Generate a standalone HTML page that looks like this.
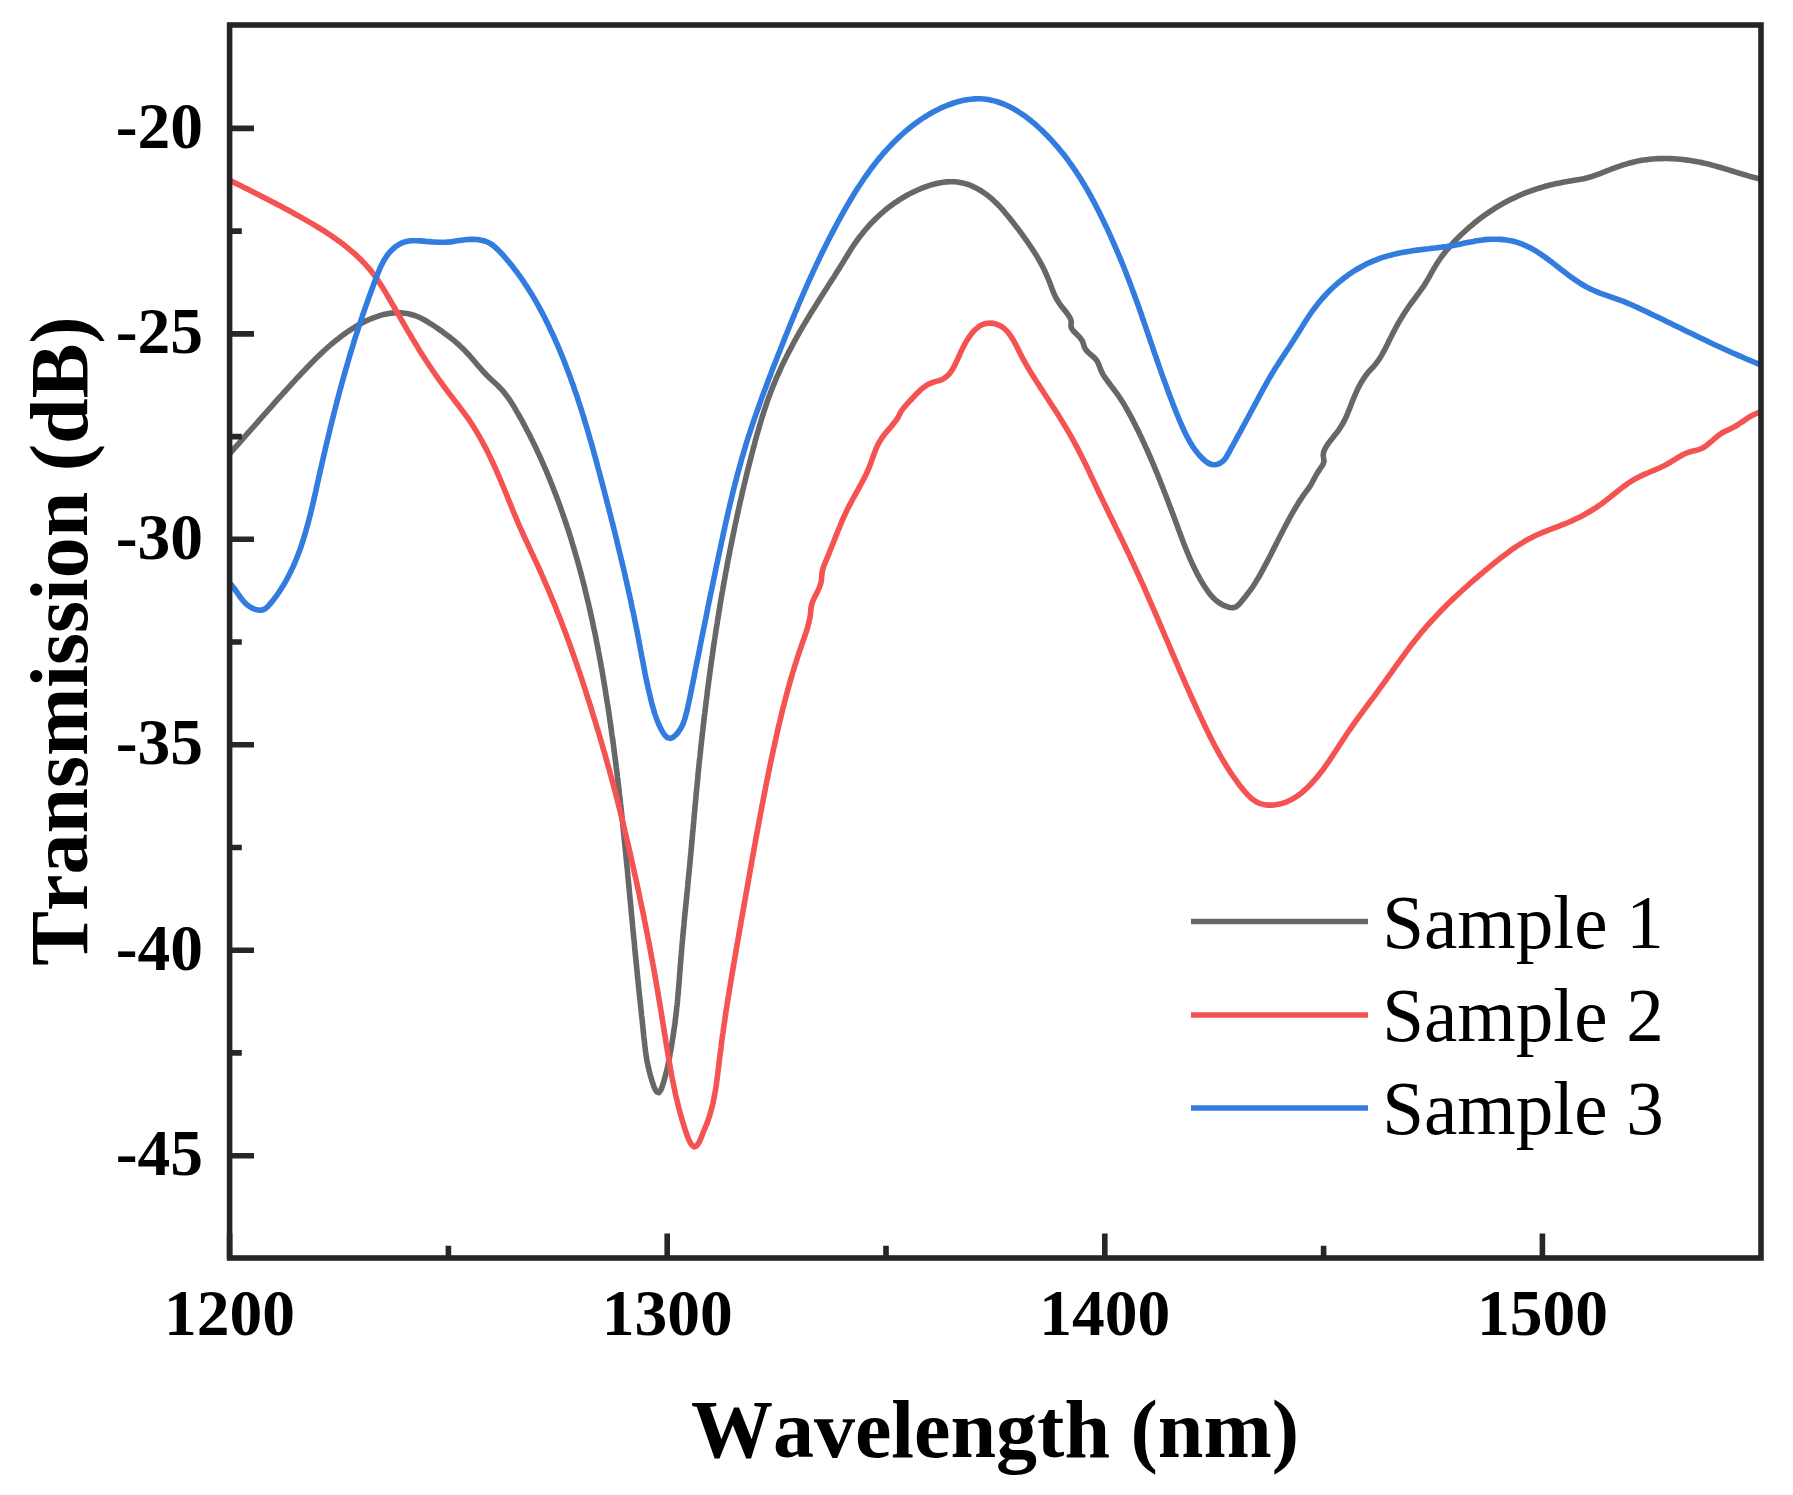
<!DOCTYPE html>
<html><head><meta charset="utf-8"><title>Transmission spectra</title>
<style>
html,body{margin:0;padding:0;background:#fff;}
body{width:1793px;height:1495px;overflow:hidden;}
svg{display:block;filter:blur(0.6px);}
text{font-family:"Liberation Serif","Times New Roman",serif;font-kerning:none;}
.tl{font-size:65.5px;font-weight:bold;fill:#000;}
.tt{font-size:82px;font-weight:bold;fill:#000;}
.lg{font-size:77px;fill:#000;}
</style></head>
<body>
<svg width="1793" height="1495" viewBox="0 0 1793 1495">
<rect width="1793" height="1495" fill="#fff"/>
<g fill="none" stroke-linejoin="round" stroke-linecap="butt" stroke-width="5.6">
<path d="M229.5 453.9L231.5 451.6L233.5 449.4L235.5 447.2L237.5 444.9L239.5 442.7L241.5 440.4L243.5 438.2L245.5 435.9L247.4 433.7L249.4 431.4L251.4 429.2L253.4 426.9L255.4 424.7L257.4 422.4L259.3 420.2L261.3 417.9L263.3 415.6L265.3 413.4L267.3 411.2L269.3 408.9L271.3 406.7L273.3 404.4L275.2 402.2L277.2 399.9L279.2 397.7L281.3 395.5L283.3 393.2L285.3 391.0L287.3 388.8L289.3 386.6L291.3 384.4L293.4 382.1L295.4 379.9L297.4 377.7L299.5 375.5L301.5 373.3L303.6 371.2L305.7 369.0L307.7 366.8L309.8 364.7L311.9 362.5L314.0 360.4L316.1 358.3L318.3 356.2L320.5 354.1L322.6 352.0L324.8 350.0L327.1 348.0L329.3 346.0L331.6 344.0L333.9 342.1L336.2 340.2L338.6 338.4L341.0 336.5L343.4 334.8L345.8 333.0L348.3 331.3L350.8 329.7L353.3 328.1L355.9 326.5L358.5 325.0L361.1 323.5L363.8 322.1L366.5 320.8L369.2 319.5L371.9 318.4L374.7 317.3L377.6 316.3L380.4 315.4L383.3 314.6L386.3 314.0L389.2 313.4L392.2 313.1L395.2 312.8L398.2 312.8L401.2 312.9L404.2 313.2L407.1 313.6L410.1 314.2L413.0 315.0L415.8 315.9L418.6 317.0L421.3 318.3L424.0 319.7L426.6 321.2L429.1 322.8L431.7 324.4L434.2 326.0L436.7 327.7L439.1 329.4L441.6 331.1L444.0 332.9L446.4 334.7L448.8 336.5L451.2 338.3L453.5 340.2L455.8 342.1L458.1 344.1L460.3 346.2L462.5 348.2L464.6 350.4L466.6 352.5L468.7 354.7L470.7 357.0L472.6 359.2L474.6 361.5L476.5 363.8L478.5 366.1L480.5 368.3L482.5 370.6L484.5 372.8L486.6 375.0L488.7 377.1L490.9 379.2L493.1 381.2L495.3 383.2L497.5 385.3L499.6 387.4L501.7 389.6L503.6 391.8L505.5 394.2L507.3 396.6L509.1 399.0L510.7 401.5L512.3 404.0L513.9 406.6L515.4 409.2L516.9 411.8L518.4 414.4L519.9 417.0L521.4 419.6L522.8 422.2L524.2 424.9L525.6 427.5L527.0 430.2L528.4 432.9L529.8 435.5L531.1 438.2L532.5 440.9L533.8 443.6L535.1 446.3L536.4 449.0L537.6 451.7L538.9 454.4L540.2 457.2L541.4 459.9L542.6 462.6L543.8 465.4L545.0 468.1L546.2 470.9L547.4 473.7L548.5 476.4L549.7 479.2L550.8 482.0L551.9 484.8L553.0 487.6L554.1 490.4L555.2 493.2L556.3 496.0L557.3 498.8L558.4 501.6L559.4 504.4L560.4 507.2L561.4 510.1L562.4 512.9L563.4 515.7L564.4 518.6L565.3 521.4L566.3 524.2L567.2 527.1L568.2 529.9L569.1 532.8L570.0 535.7L570.9 538.5L571.8 541.4L572.6 544.3L573.5 547.1L574.4 550.0L575.2 552.9L576.0 555.8L576.9 558.7L577.7 561.5L578.5 564.4L579.3 567.3L580.1 570.2L580.8 573.1L581.6 576.0L582.4 578.9L583.1 581.8L583.9 584.7L584.6 587.7L585.3 590.6L586.0 593.5L586.7 596.4L587.4 599.3L588.1 602.2L588.8 605.2L589.5 608.1L590.1 611.0L590.8 613.9L591.4 616.9L592.1 619.8L592.7 622.7L593.3 625.7L593.9 628.6L594.6 631.5L595.2 634.5L595.8 637.4L596.3 640.4L596.9 643.3L597.5 646.3L598.1 649.2L598.6 652.2L599.2 655.1L599.7 658.1L600.3 661.0L600.8 664.0L601.3 666.9L601.9 669.9L602.4 672.8L602.9 675.8L603.4 678.7L603.9 681.7L604.4 684.7L604.9 687.6L605.4 690.6L605.8 693.5L606.3 696.5L606.8 699.5L607.2 702.4L607.7 705.4L608.2 708.4L608.6 711.3L609.1 714.3L609.5 717.3L609.9 720.2L610.4 723.2L610.8 726.2L611.2 729.1L611.6 732.1L612.0 735.1L612.5 738.1L612.9 741.0L613.3 744.0L613.7 747.0L614.0 750.0L614.4 752.9L614.8 755.9L615.2 758.9L615.6 761.9L616.0 764.8L616.3 767.8L616.7 770.8L617.1 773.8L617.4 776.8L617.8 779.7L618.1 782.7L618.5 785.7L618.8 788.7L619.2 791.7L619.5 794.6L619.9 797.6L620.2 800.6L620.5 803.6L620.9 806.6L621.2 809.5L621.5 812.5L621.8 815.5L622.1 818.5L622.5 821.5L622.8 824.5L623.1 827.4L623.4 830.4L623.7 833.4L624.0 836.4L624.3 839.4L624.6 842.4L624.9 845.4L625.2 848.3L625.5 851.3L625.8 854.3L626.1 857.3L626.4 860.3L626.7 863.3L627.0 866.3L627.3 869.3L627.6 872.2L627.8 875.2L628.1 878.2L628.4 881.2L628.7 884.2L629.0 887.2L629.3 890.2L629.5 893.1L629.8 896.1L630.1 899.1L630.4 902.1L630.7 905.1L631.0 908.1L631.2 911.1L631.5 914.1L631.8 917.0L632.1 920.0L632.4 923.0L632.6 926.0L632.9 929.0L633.2 932.0L633.5 935.0L633.8 938.0L634.1 940.9L634.4 943.9L634.6 946.9L634.9 949.9L635.2 952.9L635.5 955.9L635.8 958.9L636.1 961.9L636.4 964.8L636.7 967.8L637.0 970.8L637.3 973.8L637.6 976.8L637.9 979.8L638.2 982.8L638.5 985.7L638.8 988.7L639.1 991.7L639.4 994.7L639.7 997.7L640.1 1000.7L640.4 1003.6L640.7 1006.6L641.0 1009.6L641.3 1012.6L641.6 1015.6L642.0 1018.6L642.3 1021.5L642.6 1024.5L642.9 1027.5L643.2 1030.5L643.5 1033.5L643.8 1036.5L644.2 1039.5L644.5 1042.4L644.8 1045.4L645.2 1048.4L645.5 1051.4L646.0 1054.4L646.4 1057.3L646.9 1060.3L647.5 1063.2L648.1 1066.2L648.8 1069.1L649.5 1072.0L650.2 1074.9L651.1 1077.8L651.9 1080.7L652.9 1083.5L653.8 1086.3L655.0 1089.1L656.5 1091.7L658.9 1092.7L660.7 1090.2L661.9 1087.5L662.8 1084.6L663.7 1081.8L664.5 1078.9L665.3 1076.0L666.1 1073.1L666.8 1070.2L667.5 1067.3L668.1 1064.3L668.7 1061.4L669.3 1058.4L669.8 1055.5L670.3 1052.5L670.9 1049.6L671.4 1046.6L671.9 1043.7L672.3 1040.7L672.8 1037.7L673.3 1034.8L673.7 1031.8L674.1 1028.8L674.6 1025.9L675.0 1022.9L675.3 1019.9L675.7 1016.9L676.1 1014.0L676.4 1011.0L676.7 1008.0L677.1 1005.0L677.4 1002.0L677.6 999.0L677.9 996.0L678.2 993.1L678.4 990.1L678.7 987.1L678.9 984.1L679.2 981.1L679.4 978.1L679.6 975.1L679.9 972.1L680.1 969.1L680.3 966.1L680.6 963.1L680.8 960.1L681.0 957.2L681.3 954.2L681.5 951.2L681.8 948.2L682.0 945.2L682.3 942.2L682.6 939.2L682.8 936.2L683.1 933.2L683.4 930.3L683.7 927.3L684.0 924.3L684.2 921.3L684.5 918.3L684.8 915.3L685.1 912.3L685.4 909.3L685.7 906.4L686.0 903.4L686.3 900.4L686.6 897.4L686.9 894.4L687.2 891.4L687.5 888.4L687.8 885.5L688.0 882.5L688.3 879.5L688.6 876.5L688.9 873.5L689.2 870.5L689.5 867.5L689.8 864.5L690.1 861.6L690.3 858.6L690.6 855.6L690.9 852.6L691.2 849.6L691.4 846.6L691.7 843.6L692.0 840.6L692.2 837.7L692.5 834.7L692.8 831.7L693.1 828.7L693.3 825.7L693.6 822.7L693.9 819.7L694.1 816.7L694.4 813.7L694.7 810.8L694.9 807.8L695.2 804.8L695.5 801.8L695.8 798.8L696.0 795.8L696.3 792.8L696.6 789.8L696.9 786.9L697.2 783.9L697.5 780.9L697.8 777.9L698.0 774.9L698.3 771.9L698.6 768.9L698.9 765.9L699.2 763.0L699.5 760.0L699.9 757.0L700.2 754.0L700.5 751.0L700.8 748.0L701.1 745.1L701.4 742.1L701.8 739.1L702.1 736.1L702.4 733.1L702.8 730.1L703.1 727.2L703.5 724.2L703.8 721.2L704.1 718.2L704.5 715.2L704.9 712.3L705.2 709.3L705.6 706.3L705.9 703.3L706.3 700.3L706.7 697.4L707.1 694.4L707.4 691.4L707.8 688.4L708.2 685.5L708.6 682.5L709.0 679.5L709.4 676.5L709.8 673.6L710.2 670.6L710.6 667.6L711.0 664.6L711.4 661.7L711.8 658.7L712.3 655.7L712.7 652.8L713.1 649.8L713.5 646.8L714.0 643.8L714.4 640.9L714.9 637.9L715.3 634.9L715.8 632.0L716.2 629.0L716.7 626.1L717.2 623.1L717.6 620.1L718.1 617.2L718.6 614.2L719.1 611.2L719.6 608.3L720.0 605.3L720.5 602.4L721.0 599.4L721.5 596.4L722.0 593.5L722.6 590.5L723.1 587.6L723.6 584.6L724.1 581.7L724.7 578.7L725.2 575.8L725.7 572.8L726.3 569.8L726.8 566.9L727.4 563.9L727.9 561.0L728.5 558.1L729.1 555.1L729.6 552.2L730.2 549.2L730.8 546.3L731.4 543.3L732.0 540.4L732.6 537.4L733.2 534.5L733.8 531.6L734.4 528.6L735.0 525.7L735.6 522.8L736.3 519.8L736.9 516.9L737.5 514.0L738.2 511.0L738.8 508.1L739.5 505.2L740.1 502.2L740.8 499.3L741.5 496.4L742.1 493.5L742.8 490.5L743.5 487.6L744.2 484.7L744.9 481.8L745.6 478.9L746.3 476.0L747.0 473.0L747.7 470.1L748.5 467.2L749.2 464.3L749.9 461.4L750.7 458.5L751.4 455.6L752.2 452.7L752.9 449.8L753.7 446.9L754.5 444.0L755.2 441.1L756.0 438.2L756.8 435.3L757.6 432.4L758.5 429.5L759.3 426.6L760.2 423.7L761.0 420.9L761.9 418.0L762.8 415.1L763.7 412.3L764.6 409.4L765.6 406.6L766.5 403.7L767.5 400.9L768.5 398.1L769.6 395.3L770.6 392.4L771.7 389.6L772.8 386.9L773.9 384.1L775.1 381.3L776.2 378.5L777.4 375.8L778.7 373.0L779.9 370.3L781.1 367.6L782.4 364.9L783.7 362.2L785.0 359.5L786.4 356.8L787.7 354.1L789.1 351.4L790.5 348.8L791.9 346.1L793.3 343.5L794.7 340.8L796.2 338.2L797.6 335.6L799.1 333.0L800.6 330.4L802.1 327.8L803.6 325.2L805.2 322.6L806.7 320.0L808.3 317.5L809.8 314.9L811.4 312.3L813.0 309.8L814.6 307.2L816.2 304.7L817.7 302.2L819.4 299.6L821.0 297.1L822.6 294.6L824.2 292.0L825.8 289.5L827.4 287.0L829.0 284.4L830.6 281.9L832.3 279.4L833.9 276.9L835.5 274.3L837.1 271.8L838.7 269.2L840.3 266.7L841.9 264.1L843.4 261.6L845.0 259.0L846.6 256.5L848.1 253.9L849.7 251.4L851.3 248.8L853.0 246.3L854.6 243.8L856.4 241.4L858.1 238.9L859.9 236.5L861.8 234.2L863.6 231.8L865.6 229.5L867.5 227.3L869.5 225.0L871.6 222.8L873.7 220.7L875.8 218.6L878.0 216.5L880.2 214.5L882.4 212.5L884.7 210.5L887.0 208.6L889.4 206.8L891.8 205.0L894.2 203.2L896.7 201.6L899.2 199.9L901.8 198.3L904.4 196.8L907.0 195.3L909.6 193.9L912.3 192.5L915.0 191.2L917.7 190.0L920.5 188.8L923.2 187.7L926.1 186.6L928.9 185.6L931.8 184.7L934.7 183.9L937.6 183.3L940.5 182.7L943.5 182.2L946.5 181.9L949.5 181.7L952.5 181.7L955.5 181.8L958.4 182.2L961.4 182.7L964.3 183.4L967.2 184.2L970.0 185.2L972.8 186.4L975.5 187.7L978.1 189.1L980.7 190.6L983.2 192.3L985.7 194.0L988.1 195.8L990.4 197.7L992.7 199.7L994.9 201.7L997.0 203.8L999.1 205.9L1001.2 208.1L1003.2 210.4L1005.1 212.7L1007.0 215.0L1008.9 217.3L1010.8 219.6L1012.7 222.0L1014.5 224.4L1016.3 226.7L1018.2 229.1L1020.0 231.5L1021.8 233.9L1023.5 236.3L1025.3 238.8L1027.0 241.2L1028.7 243.7L1030.4 246.2L1032.1 248.7L1033.7 251.2L1035.3 253.7L1036.9 256.3L1038.4 258.9L1039.9 261.5L1041.3 264.1L1042.7 266.8L1044.1 269.5L1045.3 272.2L1046.6 274.9L1047.7 277.7L1048.9 280.4L1050.0 283.2L1051.0 286.1L1052.1 288.9L1053.2 291.7L1054.3 294.4L1055.6 297.1L1057.1 299.8L1058.6 302.3L1060.3 304.8L1062.2 307.2L1064.1 309.5L1065.9 311.8L1067.7 314.2L1069.4 316.7L1070.7 319.4L1071.3 322.3L1070.9 325.3L1071.4 328.2L1073.2 330.7L1075.2 332.8L1077.4 334.9L1079.5 337.1L1081.3 339.4L1082.8 342.0L1083.7 344.9L1084.6 347.8L1086.2 350.3L1088.3 352.5L1090.5 354.4L1092.8 356.4L1095.0 358.4L1096.9 360.7L1098.3 363.4L1099.4 366.2L1100.4 369.0L1101.6 371.7L1103.0 374.4L1104.6 376.9L1106.3 379.4L1108.1 381.8L1109.9 384.2L1111.7 386.6L1113.5 389.0L1115.3 391.4L1117.1 393.8L1118.8 396.3L1120.5 398.8L1122.1 401.3L1123.7 403.9L1125.2 406.4L1126.7 409.0L1128.2 411.6L1129.7 414.3L1131.1 416.9L1132.5 419.6L1133.8 422.2L1135.2 424.9L1136.5 427.6L1137.9 430.3L1139.2 433.0L1140.5 435.7L1141.8 438.4L1143.0 441.1L1144.3 443.8L1145.5 446.6L1146.8 449.3L1148.0 452.0L1149.2 454.8L1150.4 457.5L1151.6 460.3L1152.8 463.1L1153.9 465.8L1155.1 468.6L1156.2 471.4L1157.4 474.1L1158.5 476.9L1159.6 479.7L1160.7 482.5L1161.8 485.3L1162.9 488.1L1164.0 490.9L1165.1 493.7L1166.2 496.5L1167.3 499.3L1168.3 502.1L1169.4 504.9L1170.5 507.7L1171.5 510.5L1172.6 513.3L1173.6 516.1L1174.7 518.9L1175.7 521.7L1176.8 524.6L1177.8 527.4L1178.8 530.2L1179.9 533.0L1180.9 535.8L1182.0 538.6L1183.0 541.4L1184.1 544.2L1185.2 547.0L1186.3 549.8L1187.5 552.6L1188.6 555.4L1189.8 558.1L1191.0 560.9L1192.2 563.6L1193.5 566.3L1194.8 569.0L1196.2 571.7L1197.5 574.4L1199.0 577.0L1200.4 579.6L1201.9 582.2L1203.5 584.8L1205.1 587.3L1206.8 589.8L1208.5 592.3L1210.4 594.6L1212.4 596.9L1214.5 599.0L1216.7 601.0L1219.1 602.8L1221.7 604.3L1224.4 605.7L1227.2 606.7L1230.1 607.5L1233.1 607.7L1235.9 606.9L1238.3 605.1L1240.3 602.9L1242.2 600.5L1244.1 598.2L1246.0 595.9L1247.8 593.5L1249.6 591.1L1251.4 588.7L1253.1 586.2L1254.7 583.7L1256.3 581.1L1257.9 578.6L1259.4 576.0L1260.9 573.3L1262.3 570.7L1263.7 568.1L1265.1 565.4L1266.5 562.8L1267.9 560.1L1269.3 557.5L1270.7 554.8L1272.0 552.1L1273.4 549.4L1274.7 546.8L1276.1 544.1L1277.4 541.4L1278.8 538.7L1280.2 536.0L1281.5 533.4L1282.9 530.7L1284.3 528.0L1285.7 525.4L1287.1 522.7L1288.5 520.1L1289.9 517.5L1291.4 514.8L1292.9 512.2L1294.4 509.6L1295.9 507.0L1297.5 504.5L1299.0 501.9L1300.7 499.4L1302.3 496.9L1304.1 494.4L1305.8 492.0L1307.7 489.6L1309.4 487.2L1311.0 484.6L1312.4 482.0L1313.8 479.4L1315.3 476.7L1316.7 474.1L1318.3 471.5L1319.9 469.0L1321.6 466.6L1323.2 464.0L1324.1 461.2L1323.6 458.2L1323.2 455.3L1323.6 452.3L1324.6 449.5L1326.1 446.9L1327.7 444.3L1329.4 441.9L1331.3 439.5L1333.2 437.2L1335.0 434.8L1336.9 432.5L1338.7 430.1L1340.3 427.6L1341.9 425.0L1343.4 422.4L1344.8 419.7L1346.1 417.0L1347.3 414.3L1348.4 411.5L1349.5 408.7L1350.6 405.9L1351.7 403.1L1352.8 400.3L1353.9 397.6L1355.1 394.8L1356.3 392.1L1357.6 389.3L1358.9 386.7L1360.3 384.0L1361.8 381.4L1363.4 378.9L1365.1 376.4L1366.9 374.0L1368.8 371.6L1370.8 369.4L1372.9 367.3L1374.9 365.0L1376.7 362.6L1378.5 360.2L1380.1 357.7L1381.7 355.1L1383.1 352.5L1384.6 349.9L1385.9 347.2L1387.3 344.5L1388.6 341.8L1389.9 339.1L1391.3 336.5L1392.6 333.8L1394.0 331.1L1395.4 328.5L1396.8 325.8L1398.3 323.2L1399.8 320.6L1401.4 318.0L1402.9 315.5L1404.5 312.9L1406.2 310.4L1407.8 307.9L1409.5 305.5L1411.3 303.0L1413.1 300.6L1414.9 298.2L1416.7 295.8L1418.5 293.4L1420.2 291.0L1422.0 288.5L1423.7 286.1L1425.3 283.5L1426.8 281.0L1428.4 278.4L1429.8 275.8L1431.3 273.2L1432.8 270.5L1434.3 267.9L1435.8 265.4L1437.4 262.8L1439.1 260.3L1440.8 257.8L1442.5 255.4L1444.4 253.0L1446.2 250.7L1448.2 248.4L1450.1 246.1L1452.2 243.9L1454.2 241.7L1456.3 239.6L1458.4 237.4L1460.5 235.3L1462.7 233.3L1464.9 231.2L1467.1 229.2L1469.4 227.2L1471.7 225.3L1474.0 223.3L1476.3 221.5L1478.7 219.6L1481.1 217.8L1483.5 216.0L1485.9 214.3L1488.4 212.6L1490.9 210.9L1493.4 209.3L1495.9 207.7L1498.5 206.1L1501.1 204.6L1503.7 203.1L1506.4 201.7L1509.0 200.3L1511.7 199.0L1514.4 197.7L1517.1 196.4L1519.9 195.2L1522.6 194.0L1525.4 192.9L1528.2 191.8L1531.0 190.8L1533.9 189.8L1536.7 188.9L1539.6 188.0L1542.5 187.1L1545.4 186.3L1548.3 185.5L1551.2 184.8L1554.1 184.1L1557.0 183.5L1560.0 182.9L1562.9 182.3L1565.9 181.8L1568.8 181.3L1571.8 180.8L1574.7 180.3L1577.7 179.8L1580.6 179.3L1583.6 178.7L1586.5 178.0L1589.4 177.2L1592.3 176.4L1595.1 175.4L1597.9 174.4L1600.7 173.3L1603.5 172.2L1606.3 171.1L1609.1 170.0L1611.9 168.9L1614.7 167.8L1617.5 166.8L1620.4 165.9L1623.2 164.9L1626.1 164.1L1629.0 163.2L1631.9 162.5L1634.8 161.8L1637.7 161.1L1640.7 160.6L1643.7 160.1L1646.6 159.7L1649.6 159.3L1652.6 159.0L1655.6 158.8L1658.6 158.6L1661.6 158.6L1664.6 158.5L1667.6 158.5L1670.6 158.6L1673.6 158.8L1676.6 159.0L1679.6 159.2L1682.5 159.5L1685.5 159.9L1688.5 160.3L1691.5 160.7L1694.4 161.2L1697.4 161.8L1700.3 162.3L1703.3 163.0L1706.2 163.6L1709.1 164.3L1712.0 165.1L1714.9 165.9L1717.8 166.7L1720.7 167.5L1723.6 168.4L1726.4 169.2L1729.3 170.1L1732.2 171.0L1735.0 171.9L1737.9 172.8L1740.8 173.6L1743.6 174.5L1746.5 175.3L1749.4 176.2L1752.3 177.0L1755.2 177.7L1758.1 178.5L1761.0 179.2" stroke="#676767"/>
<path d="M229.7 180.2L232.3 181.6L235.0 182.9L237.7 184.3L240.4 185.6L243.1 187.0L245.8 188.3L248.4 189.6L251.1 191.0L253.8 192.3L256.5 193.7L259.2 195.1L261.8 196.4L264.5 197.8L267.2 199.2L269.8 200.5L272.5 201.9L275.2 203.3L277.8 204.7L280.5 206.1L283.1 207.5L285.8 208.9L288.4 210.3L291.1 211.8L293.7 213.2L296.3 214.7L298.9 216.1L301.6 217.6L304.2 219.1L306.8 220.6L309.4 222.1L312.0 223.6L314.5 225.1L317.1 226.7L319.7 228.2L322.2 229.8L324.8 231.4L327.3 233.1L329.8 234.7L332.3 236.4L334.7 238.1L337.2 239.9L339.6 241.6L342.0 243.4L344.4 245.3L346.7 247.1L349.0 249.0L351.3 251.0L353.6 252.9L355.8 254.9L358.0 257.0L360.2 259.1L362.3 261.2L364.4 263.4L366.4 265.6L368.4 267.8L370.3 270.1L372.2 272.5L374.0 274.9L375.8 277.3L377.5 279.8L379.2 282.2L380.8 284.8L382.4 287.3L384.0 289.9L385.5 292.4L387.1 295.0L388.6 297.6L390.1 300.2L391.6 302.8L393.1 305.4L394.6 308.0L396.1 310.6L397.6 313.2L399.1 315.8L400.6 318.4L402.1 321.0L403.6 323.6L405.1 326.2L406.6 328.8L408.1 331.4L409.7 333.9L411.2 336.5L412.7 339.1L414.3 341.7L415.8 344.3L417.4 346.8L418.9 349.4L420.5 351.9L422.1 354.5L423.7 357.0L425.3 359.5L427.0 362.0L428.6 364.5L430.3 367.0L432.0 369.5L433.7 372.0L435.4 374.5L437.1 376.9L438.8 379.4L440.6 381.8L442.4 384.2L444.1 386.7L445.9 389.1L447.7 391.5L449.5 393.9L451.4 396.2L453.2 398.6L455.0 401.0L456.9 403.4L458.7 405.8L460.5 408.2L462.3 410.6L464.1 413.0L465.8 415.4L467.6 417.8L469.3 420.3L471.0 422.8L472.6 425.3L474.2 427.9L475.8 430.4L477.3 433.0L478.9 435.6L480.3 438.2L481.8 440.8L483.2 443.4L484.6 446.1L486.0 448.7L487.4 451.4L488.7 454.1L490.0 456.8L491.3 459.5L492.6 462.2L493.9 465.0L495.1 467.7L496.3 470.4L497.5 473.2L498.7 475.9L499.9 478.7L501.1 481.5L502.2 484.2L503.4 487.0L504.5 489.8L505.7 492.6L506.8 495.3L507.9 498.1L509.0 500.9L510.2 503.7L511.3 506.5L512.4 509.2L513.5 512.0L514.7 514.8L515.9 517.6L517.0 520.3L518.2 523.1L519.4 525.8L520.6 528.6L521.9 531.3L523.1 534.1L524.3 536.8L525.6 539.5L526.9 542.2L528.1 545.0L529.4 547.7L530.6 550.4L531.9 553.1L533.2 555.8L534.4 558.6L535.7 561.3L537.0 564.0L538.2 566.7L539.5 569.5L540.7 572.2L541.9 575.0L543.1 577.7L544.3 580.4L545.5 583.2L546.7 586.0L547.9 588.7L549.1 591.5L550.2 594.2L551.4 597.0L552.5 599.8L553.7 602.6L554.8 605.3L555.9 608.1L557.0 610.9L558.1 613.7L559.2 616.5L560.3 619.3L561.4 622.1L562.5 624.9L563.5 627.7L564.6 630.5L565.7 633.3L566.7 636.1L567.7 639.0L568.8 641.8L569.8 644.6L570.8 647.4L571.8 650.2L572.8 653.1L573.8 655.9L574.8 658.7L575.8 661.6L576.8 664.4L577.7 667.3L578.7 670.1L579.7 672.9L580.6 675.8L581.6 678.6L582.5 681.5L583.4 684.3L584.4 687.2L585.3 690.0L586.2 692.9L587.1 695.8L588.0 698.6L589.0 701.5L589.9 704.3L590.8 707.2L591.7 710.1L592.5 712.9L593.4 715.8L594.3 718.7L595.2 721.5L596.1 724.4L596.9 727.3L597.8 730.2L598.7 733.0L599.5 735.9L600.4 738.8L601.2 741.7L602.1 744.5L602.9 747.4L603.7 750.3L604.6 753.2L605.4 756.1L606.2 759.0L607.0 761.9L607.8 764.7L608.6 767.6L609.5 770.5L610.2 773.4L611.0 776.3L611.8 779.2L612.6 782.1L613.4 785.0L614.1 787.9L614.9 790.8L615.7 793.7L616.4 796.6L617.2 799.5L617.9 802.4L618.6 805.4L619.4 808.3L620.1 811.2L620.8 814.1L621.5 817.0L622.2 819.9L622.9 822.8L623.7 825.8L624.4 828.7L625.0 831.6L625.7 834.5L626.4 837.4L627.1 840.4L627.8 843.3L628.5 846.2L629.2 849.1L629.8 852.0L630.5 855.0L631.2 857.9L631.8 860.8L632.5 863.8L633.1 866.7L633.8 869.6L634.4 872.5L635.1 875.5L635.7 878.4L636.4 881.3L637.0 884.3L637.6 887.2L638.3 890.1L638.9 893.1L639.5 896.0L640.1 899.0L640.7 901.9L641.3 904.8L642.0 907.8L642.6 910.7L643.2 913.6L643.8 916.6L644.3 919.5L644.9 922.5L645.5 925.4L646.1 928.4L646.7 931.3L647.3 934.3L647.8 937.2L648.4 940.1L649.0 943.1L649.5 946.0L650.1 949.0L650.6 951.9L651.2 954.9L651.7 957.8L652.3 960.8L652.8 963.7L653.4 966.7L653.9 969.6L654.4 972.6L654.9 975.6L655.5 978.5L656.0 981.5L656.5 984.4L657.0 987.4L657.5 990.3L658.0 993.3L658.5 996.3L659.0 999.2L659.5 1002.2L660.0 1005.1L660.5 1008.1L661.0 1011.1L661.5 1014.0L661.9 1017.0L662.4 1020.0L662.9 1022.9L663.4 1025.9L663.8 1028.8L664.3 1031.8L664.8 1034.8L665.3 1037.7L665.7 1040.7L666.2 1043.7L666.7 1046.6L667.2 1049.6L667.7 1052.5L668.2 1055.5L668.7 1058.5L669.2 1061.4L669.7 1064.4L670.2 1067.3L670.7 1070.3L671.3 1073.2L671.8 1076.2L672.4 1079.1L673.0 1082.1L673.6 1085.0L674.2 1088.0L674.8 1090.9L675.4 1093.8L676.1 1096.8L676.8 1099.7L677.5 1102.6L678.2 1105.5L678.9 1108.4L679.7 1111.3L680.5 1114.2L681.3 1117.1L682.1 1120.0L683.0 1122.9L683.9 1125.7L684.8 1128.6L685.7 1131.5L686.7 1134.3L687.7 1137.1L688.9 1139.9L690.2 1142.6L691.8 1145.1L694.1 1146.9L696.7 1145.8L698.5 1143.3L699.9 1140.7L701.1 1137.9L702.2 1135.1L703.3 1132.3L704.4 1129.5L705.5 1126.8L706.7 1124.0L707.7 1121.2L708.7 1118.4L709.7 1115.5L710.5 1112.6L711.3 1109.7L712.1 1106.8L712.8 1103.9L713.4 1101.0L714.0 1098.0L714.6 1095.1L715.1 1092.1L715.6 1089.2L716.1 1086.2L716.5 1083.2L716.9 1080.3L717.3 1077.3L717.7 1074.3L718.0 1071.3L718.4 1068.4L718.8 1065.4L719.1 1062.4L719.5 1059.4L719.8 1056.4L720.2 1053.5L720.6 1050.5L721.0 1047.5L721.3 1044.5L721.7 1041.6L722.1 1038.6L722.5 1035.6L723.0 1032.6L723.4 1029.7L723.8 1026.7L724.2 1023.7L724.7 1020.7L725.1 1017.8L725.5 1014.8L726.0 1011.8L726.4 1008.9L726.9 1005.9L727.3 1002.9L727.8 1000.0L728.3 997.0L728.8 994.0L729.2 991.1L729.7 988.1L730.2 985.2L730.7 982.2L731.2 979.2L731.7 976.3L732.2 973.3L732.7 970.4L733.2 967.4L733.7 964.4L734.2 961.5L734.7 958.5L735.2 955.6L735.7 952.6L736.2 949.7L736.7 946.7L737.2 943.7L737.8 940.8L738.3 937.8L738.8 934.9L739.3 931.9L739.8 929.0L740.4 926.0L740.9 923.0L741.4 920.1L741.9 917.1L742.5 914.2L743.0 911.2L743.5 908.3L744.0 905.3L744.6 902.4L745.1 899.4L745.6 896.5L746.1 893.5L746.6 890.5L747.2 887.6L747.7 884.6L748.2 881.7L748.7 878.7L749.3 875.8L749.8 872.8L750.3 869.9L750.8 866.9L751.4 863.9L751.9 861.0L752.4 858.0L752.9 855.1L753.5 852.1L754.0 849.2L754.5 846.2L755.1 843.3L755.6 840.3L756.1 837.4L756.7 834.4L757.2 831.5L757.8 828.5L758.3 825.6L758.9 822.6L759.4 819.7L760.0 816.7L760.5 813.8L761.1 810.8L761.6 807.9L762.2 804.9L762.8 802.0L763.3 799.0L763.9 796.1L764.5 793.1L765.1 790.2L765.6 787.2L766.2 784.3L766.8 781.3L767.4 778.4L768.0 775.5L768.6 772.5L769.2 769.6L769.8 766.6L770.4 763.7L771.0 760.8L771.6 757.8L772.3 754.9L772.9 752.0L773.5 749.0L774.2 746.1L774.8 743.2L775.5 740.2L776.1 737.3L776.8 734.4L777.4 731.4L778.1 728.5L778.8 725.6L779.5 722.7L780.2 719.8L780.9 716.8L781.6 713.9L782.3 711.0L783.0 708.1L783.8 705.2L784.5 702.3L785.3 699.4L786.0 696.5L786.8 693.6L787.6 690.7L788.4 687.8L789.2 684.9L790.0 682.0L790.8 679.1L791.7 676.2L792.5 673.4L793.4 670.5L794.3 667.6L795.2 664.7L796.1 661.9L797.0 659.0L797.9 656.2L798.8 653.3L799.8 650.5L800.8 647.6L801.7 644.8L802.7 642.0L803.7 639.1L804.7 636.3L805.7 633.5L806.6 630.6L807.5 627.7L808.3 624.8L809.0 621.9L809.7 619.0L810.2 616.0L810.6 613.1L810.8 610.1L811.1 607.1L811.8 604.2L812.8 601.3L814.0 598.6L815.3 595.9L816.7 593.2L818.0 590.5L819.2 587.8L820.3 585.0L821.1 582.1L821.5 579.1L821.7 576.1L822.0 573.1L822.6 570.2L823.4 567.3L824.4 564.5L825.6 561.7L826.7 558.9L827.9 556.2L829.0 553.4L830.1 550.6L831.3 547.8L832.4 545.0L833.5 542.2L834.6 539.4L835.7 536.6L836.8 533.9L837.9 531.1L839.0 528.3L840.2 525.5L841.3 522.7L842.5 520.0L843.7 517.2L845.0 514.5L846.2 511.8L847.5 509.1L848.9 506.4L850.3 503.8L851.7 501.1L853.1 498.5L854.6 495.8L856.0 493.2L857.5 490.6L859.0 488.0L860.4 485.3L861.8 482.7L863.2 480.0L864.6 477.4L865.9 474.7L867.2 472.0L868.4 469.2L869.5 466.4L870.6 463.6L871.6 460.8L872.6 458.0L873.6 455.2L874.7 452.3L875.7 449.5L876.9 446.8L878.2 444.1L879.7 441.4L881.3 438.9L883.0 436.4L884.8 434.1L886.7 431.7L888.7 429.5L890.6 427.2L892.5 424.9L894.4 422.5L896.2 420.1L897.9 417.6L899.3 415.0L900.6 412.3L902.3 409.8L904.1 407.4L906.1 405.1L908.1 402.9L910.1 400.7L912.2 398.5L914.2 396.3L916.3 394.1L918.4 392.0L920.6 389.9L922.8 388.0L925.3 386.2L927.8 384.6L930.5 383.3L933.3 382.2L936.2 381.4L939.1 380.6L941.9 379.6L944.5 378.1L946.9 376.3L949.0 374.2L950.9 371.8L952.5 369.3L954.0 366.7L955.3 364.0L956.6 361.3L957.9 358.6L959.1 355.8L960.3 353.1L961.6 350.4L962.9 347.7L964.3 345.0L965.7 342.4L967.3 339.8L968.9 337.3L970.7 334.9L972.5 332.5L974.6 330.3L976.8 328.3L979.1 326.4L981.7 324.9L984.5 323.8L987.5 323.2L990.5 323.1L993.4 323.4L996.3 324.2L999.1 325.3L1001.8 326.7L1004.2 328.5L1006.4 330.5L1008.4 332.8L1010.2 335.2L1011.8 337.7L1013.4 340.2L1014.8 342.9L1016.2 345.5L1017.6 348.2L1018.9 350.9L1020.3 353.6L1021.6 356.2L1023.0 358.9L1024.5 361.5L1025.9 364.1L1027.4 366.7L1029.0 369.3L1030.5 371.9L1032.1 374.5L1033.7 377.0L1035.3 379.5L1036.9 382.1L1038.5 384.6L1040.1 387.1L1041.8 389.6L1043.4 392.1L1045.1 394.7L1046.7 397.2L1048.4 399.7L1050.0 402.2L1051.6 404.7L1053.2 407.2L1054.9 409.8L1056.5 412.3L1058.1 414.8L1059.7 417.4L1061.3 419.9L1062.8 422.5L1064.4 425.0L1065.9 427.6L1067.5 430.2L1069.0 432.8L1070.5 435.4L1071.9 438.0L1073.4 440.6L1074.8 443.3L1076.3 445.9L1077.7 448.6L1079.0 451.2L1080.4 453.9L1081.8 456.6L1083.1 459.3L1084.4 462.0L1085.8 464.6L1087.1 467.3L1088.4 470.1L1089.7 472.8L1090.9 475.5L1092.2 478.2L1093.5 480.9L1094.8 483.6L1096.1 486.3L1097.3 489.0L1098.6 491.8L1099.9 494.5L1101.2 497.2L1102.5 499.9L1103.8 502.6L1105.1 505.3L1106.4 508.0L1107.7 510.7L1109.0 513.4L1110.3 516.1L1111.7 518.8L1113.0 521.5L1114.3 524.2L1115.6 526.9L1116.9 529.6L1118.3 532.3L1119.6 535.0L1120.9 537.7L1122.2 540.4L1123.5 543.1L1124.8 545.8L1126.1 548.5L1127.4 551.2L1128.7 553.9L1130.0 556.6L1131.2 559.3L1132.5 562.1L1133.8 564.8L1135.0 567.5L1136.3 570.2L1137.5 573.0L1138.8 575.7L1140.0 578.4L1141.2 581.2L1142.5 583.9L1143.7 586.6L1144.9 589.4L1146.1 592.1L1147.3 594.9L1148.5 597.6L1149.7 600.4L1150.9 603.1L1152.1 605.9L1153.3 608.6L1154.5 611.4L1155.7 614.1L1156.9 616.9L1158.1 619.7L1159.2 622.4L1160.4 625.2L1161.6 627.9L1162.8 630.7L1164.0 633.5L1165.1 636.2L1166.3 639.0L1167.5 641.7L1168.7 644.5L1169.9 647.3L1171.0 650.0L1172.2 652.8L1173.4 655.5L1174.6 658.3L1175.8 661.1L1177.0 663.8L1178.1 666.6L1179.3 669.3L1180.5 672.1L1181.7 674.8L1182.9 677.6L1184.1 680.3L1185.3 683.1L1186.5 685.8L1187.8 688.6L1189.0 691.3L1190.2 694.1L1191.4 696.8L1192.6 699.5L1193.9 702.3L1195.1 705.0L1196.4 707.7L1197.6 710.5L1198.9 713.2L1200.1 715.9L1201.4 718.6L1202.7 721.3L1204.0 724.1L1205.3 726.8L1206.6 729.5L1207.9 732.2L1209.2 734.8L1210.6 737.5L1211.9 740.2L1213.3 742.9L1214.7 745.5L1216.1 748.2L1217.6 750.8L1219.0 753.4L1220.5 756.1L1222.0 758.6L1223.5 761.2L1225.1 763.8L1226.6 766.4L1228.3 768.9L1229.9 771.4L1231.5 773.9L1233.2 776.4L1235.0 778.8L1236.7 781.3L1238.5 783.7L1240.3 786.1L1242.2 788.4L1244.1 790.8L1246.0 793.0L1248.1 795.2L1250.2 797.3L1252.5 799.3L1255.0 801.0L1257.6 802.5L1260.3 803.6L1263.2 804.4L1266.2 804.9L1269.2 805.1L1272.2 805.1L1275.2 804.8L1278.1 804.3L1281.1 803.7L1283.9 802.8L1286.8 801.8L1289.5 800.5L1292.2 799.2L1294.8 797.6L1297.3 796.0L1299.7 794.2L1302.1 792.4L1304.3 790.4L1306.6 788.4L1308.7 786.3L1310.8 784.2L1312.8 782.0L1314.8 779.7L1316.8 777.4L1318.7 775.1L1320.5 772.8L1322.4 770.4L1324.2 768.0L1325.9 765.5L1327.6 763.1L1329.3 760.6L1331.0 758.1L1332.7 755.6L1334.3 753.1L1336.0 750.6L1337.6 748.1L1339.2 745.6L1340.9 743.0L1342.5 740.5L1344.1 738.0L1345.8 735.5L1347.5 733.0L1349.2 730.5L1350.9 728.1L1352.6 725.6L1354.3 723.2L1356.1 720.7L1357.8 718.3L1359.6 715.9L1361.4 713.4L1363.2 711.0L1364.9 708.6L1366.7 706.2L1368.5 703.8L1370.3 701.4L1372.1 699.0L1373.9 696.6L1375.7 694.2L1377.5 691.8L1379.2 689.3L1381.0 686.9L1382.8 684.5L1384.5 682.0L1386.3 679.6L1388.0 677.2L1389.8 674.7L1391.5 672.3L1393.2 669.8L1395.0 667.4L1396.7 664.9L1398.5 662.5L1400.2 660.1L1402.0 657.6L1403.8 655.2L1405.5 652.8L1407.3 650.4L1409.1 648.0L1410.9 645.6L1412.8 643.2L1414.6 640.8L1416.5 638.5L1418.4 636.2L1420.3 633.8L1422.2 631.5L1424.2 629.3L1426.1 627.0L1428.1 624.7L1430.1 622.5L1432.1 620.3L1434.2 618.1L1436.2 615.9L1438.3 613.7L1440.4 611.5L1442.4 609.4L1444.6 607.3L1446.7 605.1L1448.8 603.0L1451.0 600.9L1453.1 598.9L1455.3 596.8L1457.5 594.8L1459.7 592.7L1461.9 590.7L1464.2 588.7L1466.4 586.7L1468.6 584.7L1470.9 582.7L1473.2 580.7L1475.4 578.8L1477.7 576.8L1480.0 574.9L1482.3 573.0L1484.6 571.0L1486.9 569.1L1489.2 567.2L1491.6 565.3L1493.9 563.4L1496.2 561.5L1498.6 559.7L1500.9 557.8L1503.3 556.0L1505.7 554.2L1508.1 552.4L1510.5 550.6L1513.0 548.8L1515.4 547.1L1517.9 545.5L1520.5 543.8L1523.0 542.3L1525.6 540.7L1528.2 539.3L1530.9 537.9L1533.5 536.5L1536.2 535.2L1539.0 534.0L1541.7 532.8L1544.5 531.7L1547.3 530.6L1550.1 529.5L1552.9 528.4L1555.7 527.4L1558.5 526.3L1561.3 525.2L1564.1 524.1L1566.9 523.0L1569.7 521.8L1572.4 520.6L1575.1 519.3L1577.8 518.0L1580.5 516.7L1583.2 515.3L1585.8 513.8L1588.4 512.3L1591.0 510.8L1593.5 509.2L1596.0 507.6L1598.5 505.9L1601.0 504.2L1603.4 502.4L1605.8 500.6L1608.2 498.7L1610.5 496.9L1612.9 495.0L1615.2 493.1L1617.6 491.2L1619.9 489.4L1622.3 487.6L1624.7 485.8L1627.1 484.0L1629.6 482.3L1632.2 480.7L1634.7 479.2L1637.4 477.8L1640.0 476.4L1642.8 475.1L1645.5 473.9L1648.3 472.7L1651.0 471.5L1653.8 470.4L1656.5 469.2L1659.3 468.0L1662.0 466.7L1664.7 465.4L1667.3 464.0L1669.9 462.5L1672.5 460.9L1675.0 459.3L1677.6 457.7L1680.2 456.2L1682.8 454.7L1685.5 453.5L1688.3 452.4L1691.2 451.5L1694.1 450.8L1697.0 450.1L1699.9 449.2L1702.6 448.0L1705.2 446.4L1707.6 444.6L1709.9 442.7L1712.2 440.8L1714.4 438.8L1716.7 436.8L1719.1 435.0L1721.5 433.3L1724.2 431.8L1726.9 430.5L1729.6 429.2L1732.3 427.9L1734.9 426.5L1737.5 425.0L1740.0 423.3L1742.5 421.6L1745.0 419.9L1747.5 418.2L1750.0 416.6L1752.6 415.2L1755.3 413.9L1758.1 412.8L1761.0 412.0" stroke="#f55252"/>
<path d="M229.6 583.0L231.6 585.2L233.5 587.5L235.3 590.0L237.0 592.4L238.7 594.9L240.4 597.4L242.3 599.7L244.2 602.0L246.4 604.1L248.7 606.0L251.2 607.6L253.9 608.9L256.8 609.8L259.8 610.2L262.7 609.9L265.5 608.6L267.7 606.7L269.7 604.4L271.6 602.1L273.5 599.8L275.3 597.4L277.1 594.9L278.8 592.5L280.4 590.0L282.0 587.4L283.6 584.9L285.1 582.3L286.6 579.7L288.0 577.0L289.4 574.3L290.7 571.7L292.0 568.9L293.3 566.2L294.5 563.5L295.6 560.7L296.8 557.9L297.9 555.1L298.9 552.3L300.0 549.5L301.0 546.7L301.9 543.8L302.9 541.0L303.8 538.1L304.6 535.2L305.5 532.4L306.3 529.5L307.1 526.6L307.9 523.7L308.7 520.8L309.4 517.9L310.2 515.0L310.9 512.1L311.6 509.1L312.3 506.2L313.0 503.3L313.7 500.4L314.3 497.4L315.0 494.5L315.7 491.6L316.3 488.7L317.0 485.7L317.6 482.8L318.3 479.9L318.9 476.9L319.6 474.0L320.2 471.1L320.9 468.1L321.6 465.2L322.2 462.3L322.9 459.4L323.6 456.4L324.3 453.5L324.9 450.6L325.6 447.7L326.3 444.7L327.0 441.8L327.7 438.9L328.4 436.0L329.1 433.1L329.8 430.1L330.5 427.2L331.2 424.3L331.9 421.4L332.7 418.5L333.4 415.6L334.1 412.7L334.9 409.7L335.6 406.8L336.4 403.9L337.1 401.0L337.9 398.1L338.7 395.2L339.4 392.3L340.2 389.4L341.0 386.5L341.8 383.6L342.6 380.7L343.4 377.8L344.2 374.9L345.0 372.1L345.8 369.2L346.7 366.3L347.5 363.4L348.3 360.5L349.2 357.6L350.0 354.8L350.9 351.9L351.8 349.0L352.7 346.1L353.5 343.3L354.4 340.4L355.3 337.5L356.2 334.7L357.2 331.8L358.1 329.0L359.0 326.1L360.0 323.3L360.9 320.4L361.9 317.6L362.8 314.7L363.8 311.9L364.8 309.1L365.8 306.2L366.8 303.4L367.8 300.6L368.8 297.7L369.8 294.9L370.9 292.1L371.9 289.3L372.9 286.5L374.0 283.6L375.0 280.8L376.1 278.0L377.2 275.2L378.3 272.4L379.4 269.7L380.6 266.9L381.9 264.2L383.3 261.5L384.8 258.9L386.4 256.4L388.2 254.0L390.2 251.7L392.3 249.6L394.5 247.6L396.9 245.8L399.5 244.2L402.1 242.8L405.0 241.8L407.9 241.2L410.9 240.8L413.9 240.7L416.9 240.7L419.9 240.9L422.9 241.1L425.9 241.4L428.9 241.6L431.8 241.9L434.8 242.0L437.8 242.2L440.8 242.3L443.8 242.2L446.8 242.1L449.8 241.9L452.8 241.6L455.8 241.1L458.8 240.6L461.7 240.2L464.7 239.8L467.7 239.5L470.7 239.4L473.7 239.4L476.7 239.5L479.7 239.9L482.6 240.5L485.5 241.3L488.3 242.5L490.9 243.9L493.3 245.6L495.6 247.6L497.8 249.6L499.9 251.8L502.0 254.0L504.0 256.2L505.9 258.5L507.9 260.8L509.8 263.1L511.7 265.4L513.5 267.8L515.4 270.2L517.2 272.6L518.9 275.0L520.7 277.4L522.4 279.9L524.1 282.4L525.7 284.9L527.4 287.4L529.0 289.9L530.6 292.5L532.1 295.0L533.7 297.6L535.2 300.2L536.7 302.8L538.2 305.4L539.6 308.1L541.0 310.7L542.4 313.4L543.8 316.0L545.2 318.7L546.5 321.4L547.9 324.1L549.2 326.8L550.4 329.5L551.7 332.2L553.0 334.9L554.2 337.7L555.4 340.4L556.6 343.2L557.8 345.9L559.0 348.7L560.2 351.4L561.3 354.2L562.5 357.0L563.6 359.8L564.7 362.6L565.8 365.4L566.8 368.2L567.9 371.0L569.0 373.8L570.0 376.6L571.0 379.4L572.0 382.3L573.1 385.1L574.0 387.9L575.0 390.8L576.0 393.6L577.0 396.4L577.9 399.3L578.8 402.1L579.8 405.0L580.7 407.9L581.6 410.7L582.5 413.6L583.4 416.4L584.3 419.3L585.1 422.2L586.0 425.1L586.9 427.9L587.7 430.8L588.6 433.7L589.4 436.6L590.2 439.5L591.1 442.4L591.9 445.2L592.7 448.1L593.5 451.0L594.3 453.9L595.1 456.8L595.9 459.7L596.7 462.6L597.4 465.5L598.2 468.4L599.0 471.3L599.8 474.2L600.5 477.1L601.3 480.0L602.1 482.9L602.8 485.8L603.6 488.7L604.4 491.6L605.1 494.5L605.9 497.4L606.6 500.3L607.4 503.3L608.1 506.2L608.9 509.1L609.6 512.0L610.4 514.9L611.1 517.8L611.8 520.7L612.6 523.6L613.3 526.5L614.0 529.4L614.8 532.4L615.5 535.3L616.2 538.2L616.9 541.1L617.6 544.0L618.3 546.9L619.0 549.9L619.7 552.8L620.4 555.7L621.1 558.6L621.8 561.5L622.5 564.5L623.2 567.4L623.9 570.3L624.6 573.2L625.2 576.2L625.9 579.1L626.6 582.0L627.2 584.9L627.9 587.9L628.5 590.8L629.2 593.7L629.8 596.7L630.5 599.6L631.1 602.5L631.7 605.5L632.3 608.4L633.0 611.3L633.6 614.3L634.2 617.2L634.8 620.2L635.4 623.1L636.0 626.0L636.6 629.0L637.2 631.9L637.7 634.9L638.3 637.8L638.9 640.8L639.4 643.7L640.0 646.7L640.5 649.6L641.1 652.6L641.6 655.5L642.2 658.5L642.8 661.4L643.3 664.4L643.9 667.3L644.5 670.3L645.0 673.2L645.6 676.2L646.2 679.1L646.8 682.0L647.5 685.0L648.1 687.9L648.8 690.8L649.5 693.8L650.2 696.7L650.9 699.6L651.6 702.5L652.4 705.4L653.2 708.3L654.0 711.2L654.9 714.1L655.9 716.9L656.9 719.7L658.0 722.5L659.2 725.3L660.5 728.0L661.9 730.6L663.4 733.2L665.2 735.6L667.4 737.6L670.3 738.4L673.0 737.3L675.3 735.4L677.4 733.2L679.2 730.8L680.8 728.3L682.2 725.6L683.4 722.9L684.4 720.1L685.3 717.2L686.1 714.3L686.8 711.4L687.5 708.5L688.1 705.5L688.8 702.6L689.4 699.7L690.0 696.7L690.6 693.8L691.2 690.8L691.8 687.9L692.4 684.9L693.0 682.0L693.6 679.1L694.2 676.1L694.7 673.2L695.3 670.2L695.9 667.3L696.5 664.3L697.1 661.4L697.7 658.4L698.3 655.5L698.9 652.6L699.5 649.6L700.0 646.7L700.6 643.7L701.2 640.8L701.8 637.8L702.4 634.9L703.0 632.0L703.6 629.0L704.2 626.1L704.8 623.1L705.4 620.2L706.0 617.2L706.6 614.3L707.2 611.4L707.7 608.4L708.3 605.5L708.9 602.5L709.5 599.6L710.1 596.6L710.7 593.7L711.4 590.8L712.0 587.8L712.6 584.9L713.2 581.9L713.8 579.0L714.4 576.1L715.0 573.1L715.6 570.2L716.2 567.2L716.8 564.3L717.5 561.4L718.1 558.4L718.7 555.5L719.3 552.6L720.0 549.6L720.6 546.7L721.2 543.7L721.8 540.8L722.5 537.9L723.1 534.9L723.7 532.0L724.4 529.1L725.0 526.1L725.7 523.2L726.3 520.3L727.0 517.4L727.7 514.4L728.3 511.5L729.0 508.6L729.7 505.7L730.4 502.7L731.1 499.8L731.8 496.9L732.5 494.0L733.2 491.1L733.9 488.1L734.7 485.2L735.4 482.3L736.2 479.4L736.9 476.5L737.7 473.6L738.5 470.7L739.3 467.8L740.1 464.9L740.9 462.0L741.7 459.1L742.5 456.3L743.4 453.4L744.2 450.5L745.1 447.6L745.9 444.7L746.8 441.9L747.7 439.0L748.6 436.2L749.6 433.3L750.5 430.4L751.4 427.6L752.4 424.7L753.3 421.9L754.3 419.1L755.3 416.2L756.3 413.4L757.3 410.5L758.3 407.7L759.3 404.9L760.3 402.1L761.3 399.2L762.3 396.4L763.4 393.6L764.4 390.8L765.5 388.0L766.5 385.2L767.6 382.3L768.6 379.5L769.7 376.7L770.8 373.9L771.8 371.1L772.9 368.3L774.0 365.5L775.1 362.7L776.2 359.9L777.3 357.1L778.4 354.3L779.5 351.5L780.6 348.8L781.7 346.0L782.8 343.2L783.9 340.4L785.0 337.6L786.1 334.8L787.3 332.0L788.4 329.2L789.5 326.5L790.6 323.7L791.8 320.9L792.9 318.1L794.1 315.4L795.2 312.6L796.4 309.8L797.6 307.0L798.7 304.3L799.9 301.5L801.1 298.8L802.3 296.0L803.5 293.3L804.7 290.5L805.9 287.8L807.1 285.0L808.3 282.3L809.6 279.5L810.8 276.8L812.1 274.1L813.3 271.3L814.6 268.6L815.8 265.9L817.1 263.2L818.4 260.5L819.7 257.8L821.0 255.0L822.3 252.3L823.6 249.7L825.0 247.0L826.3 244.3L827.7 241.6L829.0 238.9L830.4 236.2L831.8 233.6L833.2 230.9L834.6 228.3L836.0 225.6L837.4 223.0L838.8 220.3L840.3 217.7L841.7 215.1L843.2 212.5L844.7 209.8L846.2 207.2L847.7 204.6L849.2 202.0L850.7 199.5L852.3 196.9L853.8 194.3L855.4 191.8L857.0 189.2L858.6 186.7L860.3 184.2L862.0 181.7L863.6 179.2L865.3 176.7L867.1 174.3L868.8 171.9L870.6 169.4L872.4 167.0L874.2 164.6L876.1 162.3L877.9 159.9L879.8 157.6L881.8 155.3L883.7 153.0L885.7 150.8L887.7 148.6L889.8 146.4L891.9 144.2L894.0 142.0L896.1 139.9L898.3 137.9L900.5 135.8L902.7 133.8L904.9 131.8L907.2 129.9L909.5 128.0L911.9 126.1L914.3 124.3L916.7 122.5L919.1 120.7L921.6 119.0L924.1 117.4L926.6 115.8L929.2 114.2L931.8 112.7L934.5 111.3L937.1 109.9L939.8 108.6L942.5 107.3L945.3 106.2L948.1 105.0L950.9 104.0L953.7 103.0L956.6 102.1L959.5 101.3L962.4 100.6L965.4 100.0L968.3 99.5L971.3 99.2L974.3 98.9L977.3 98.8L980.3 98.8L983.3 99.0L986.3 99.3L989.2 99.8L992.2 100.4L995.1 101.1L998.0 102.0L1000.8 103.0L1003.6 104.0L1006.4 105.2L1009.1 106.5L1011.7 107.9L1014.4 109.3L1017.0 110.9L1019.5 112.5L1022.0 114.1L1024.5 115.8L1026.9 117.6L1029.3 119.5L1031.6 121.3L1033.9 123.2L1036.2 125.2L1038.4 127.2L1040.6 129.2L1042.8 131.3L1044.9 133.4L1047.1 135.6L1049.1 137.7L1051.2 139.9L1053.2 142.1L1055.2 144.4L1057.2 146.6L1059.1 148.9L1061.0 151.2L1062.9 153.6L1064.8 155.9L1066.6 158.3L1068.4 160.7L1070.1 163.2L1071.9 165.6L1073.6 168.1L1075.3 170.6L1076.9 173.1L1078.6 175.6L1080.2 178.1L1081.8 180.7L1083.3 183.2L1084.9 185.8L1086.4 188.4L1087.9 191.0L1089.4 193.6L1090.8 196.2L1092.2 198.9L1093.7 201.5L1095.1 204.2L1096.4 206.9L1097.8 209.5L1099.2 212.2L1100.5 214.9L1101.8 217.6L1103.1 220.3L1104.4 223.0L1105.7 225.7L1107.0 228.4L1108.3 231.2L1109.5 233.9L1110.8 236.6L1112.0 239.4L1113.2 242.1L1114.4 244.8L1115.6 247.6L1116.8 250.4L1118.0 253.1L1119.1 255.9L1120.3 258.7L1121.4 261.4L1122.6 264.2L1123.7 267.0L1124.8 269.8L1125.9 272.6L1127.0 275.4L1128.1 278.2L1129.2 281.0L1130.2 283.8L1131.3 286.6L1132.3 289.4L1133.4 292.2L1134.4 295.0L1135.4 297.9L1136.5 300.7L1137.5 303.5L1138.5 306.3L1139.5 309.2L1140.5 312.0L1141.5 314.8L1142.4 317.7L1143.4 320.5L1144.4 323.4L1145.4 326.2L1146.3 329.0L1147.3 331.9L1148.3 334.7L1149.3 337.6L1150.2 340.4L1151.2 343.2L1152.2 346.1L1153.1 348.9L1154.1 351.8L1155.1 354.6L1156.1 357.4L1157.0 360.3L1158.0 363.1L1159.0 365.9L1160.0 368.8L1161.0 371.6L1162.0 374.4L1163.0 377.3L1164.0 380.1L1165.1 382.9L1166.1 385.7L1167.1 388.6L1168.2 391.4L1169.2 394.2L1170.3 397.0L1171.4 399.8L1172.4 402.6L1173.5 405.4L1174.6 408.2L1175.7 411.0L1176.9 413.8L1178.0 416.5L1179.1 419.3L1180.3 422.1L1181.5 424.8L1182.7 427.6L1183.9 430.3L1185.2 433.0L1186.6 435.7L1188.0 438.4L1189.4 441.0L1190.9 443.6L1192.5 446.1L1194.2 448.6L1196.0 451.0L1197.9 453.4L1199.8 455.7L1201.9 457.9L1204.0 459.9L1206.3 461.9L1208.9 463.5L1211.7 464.5L1214.7 464.7L1217.7 464.2L1220.4 463.1L1222.8 461.3L1224.8 459.1L1226.5 456.6L1228.0 454.0L1229.5 451.3L1230.9 448.7L1232.4 446.1L1233.8 443.5L1235.3 440.8L1236.7 438.2L1238.1 435.6L1239.6 432.9L1241.0 430.3L1242.4 427.7L1243.9 425.0L1245.3 422.4L1246.7 419.7L1248.2 417.1L1249.6 414.5L1251.0 411.8L1252.4 409.2L1253.9 406.5L1255.3 403.9L1256.7 401.2L1258.1 398.6L1259.5 395.9L1260.9 393.3L1262.4 390.6L1263.8 388.0L1265.3 385.4L1266.7 382.8L1268.2 380.2L1269.7 377.6L1271.2 375.0L1272.8 372.4L1274.4 369.8L1275.9 367.3L1277.6 364.8L1279.2 362.2L1280.8 359.7L1282.4 357.2L1284.1 354.7L1285.7 352.2L1287.4 349.7L1289.1 347.2L1290.7 344.7L1292.3 342.1L1294.0 339.6L1295.6 337.1L1297.2 334.5L1298.8 332.0L1300.4 329.5L1302.0 326.9L1303.5 324.4L1305.2 321.8L1306.8 319.3L1308.4 316.8L1310.1 314.3L1311.8 311.8L1313.6 309.4L1315.4 307.0L1317.2 304.6L1319.1 302.3L1321.0 300.0L1323.0 297.7L1325.0 295.5L1327.0 293.3L1329.1 291.1L1331.3 289.0L1333.5 287.0L1335.7 285.0L1337.9 283.0L1340.2 281.1L1342.6 279.2L1345.0 277.3L1347.4 275.6L1349.8 273.8L1352.3 272.2L1354.9 270.5L1357.4 269.0L1360.0 267.5L1362.7 266.0L1365.3 264.6L1368.0 263.3L1370.7 262.1L1373.5 260.9L1376.3 259.8L1379.1 258.7L1381.9 257.7L1384.8 256.8L1387.7 255.9L1390.6 255.2L1393.5 254.4L1396.4 253.7L1399.3 253.1L1402.3 252.5L1405.2 251.9L1408.2 251.4L1411.1 251.0L1414.1 250.5L1417.1 250.1L1420.1 249.7L1423.0 249.4L1426.0 249.0L1429.0 248.7L1432.0 248.3L1435.0 248.0L1438.0 247.6L1440.9 247.3L1443.9 246.9L1446.9 246.5L1449.9 246.0L1452.8 245.5L1455.8 244.9L1458.7 244.4L1461.7 243.7L1464.6 243.1L1467.5 242.5L1470.5 241.9L1473.4 241.4L1476.4 240.8L1479.3 240.4L1482.3 240.0L1485.3 239.6L1488.3 239.4L1491.3 239.2L1494.3 239.2L1497.3 239.2L1500.3 239.4L1503.3 239.6L1506.3 240.0L1509.2 240.4L1512.2 241.0L1515.1 241.8L1518.0 242.6L1520.8 243.6L1523.6 244.7L1526.3 245.9L1529.0 247.2L1531.7 248.6L1534.3 250.1L1536.9 251.7L1539.4 253.3L1541.9 254.9L1544.4 256.7L1546.8 258.4L1549.2 260.2L1551.6 262.0L1554.0 263.9L1556.3 265.7L1558.7 267.6L1561.1 269.4L1563.4 271.2L1565.8 273.1L1568.2 274.9L1570.6 276.7L1573.1 278.4L1575.5 280.2L1578.0 281.8L1580.5 283.5L1583.1 285.0L1585.7 286.5L1588.3 287.9L1591.0 289.3L1593.8 290.5L1596.5 291.7L1599.3 292.8L1602.1 293.8L1605.0 294.8L1607.8 295.8L1610.6 296.8L1613.5 297.8L1616.3 298.8L1619.1 299.8L1622.0 300.8L1624.7 301.9L1627.5 303.1L1630.3 304.3L1633.0 305.5L1635.8 306.7L1638.5 307.9L1641.2 309.2L1643.9 310.5L1646.6 311.8L1649.4 313.1L1652.1 314.4L1654.8 315.7L1657.5 317.0L1660.2 318.3L1662.9 319.6L1665.6 320.9L1668.3 322.3L1671.0 323.6L1673.7 324.9L1676.4 326.2L1679.1 327.5L1681.8 328.8L1684.4 330.2L1687.1 331.5L1689.8 332.8L1692.5 334.1L1695.3 335.4L1698.0 336.7L1700.7 338.0L1703.4 339.3L1706.1 340.6L1708.8 341.9L1711.5 343.2L1714.2 344.5L1716.9 345.7L1719.7 347.0L1722.4 348.3L1725.1 349.5L1727.9 350.7L1730.6 352.0L1733.3 353.2L1736.1 354.4L1738.8 355.6L1741.6 356.8L1744.3 358.0L1747.1 359.2L1749.9 360.4L1752.6 361.5L1755.4 362.7L1758.2 363.8L1761.0 364.9" stroke="#327ce0"/>
</g>
<g stroke="#262626" stroke-width="5.6" fill="none">
<path d="M229.6 1258.0V1233.6M667.2 1258.0V1233.6M1104.8 1258.0V1233.6M1542.4 1258.0V1233.6M448.4 1258.0V1245.8M886.0 1258.0V1245.8M1323.6 1258.0V1245.8M229.6 128.4H254.0M229.6 333.9H254.0M229.6 539.3H254.0M229.6 744.8H254.0M229.6 950.2H254.0M229.6 1155.7H254.0M229.6 231.1H241.8M229.6 436.6H241.8M229.6 642.0H241.8M229.6 847.5H241.8M229.6 1052.9H241.8"/>
<rect x="229.6" y="25.0" width="1531.4" height="1233.0"/>
</g>
<g class="tl"><text x="203" y="147.9" text-anchor="end">-20</text><text x="203" y="353.4" text-anchor="end">-25</text><text x="203" y="558.8" text-anchor="end">-30</text><text x="203" y="764.2" text-anchor="end">-35</text><text x="203" y="969.7" text-anchor="end">-40</text><text x="203" y="1175.2" text-anchor="end">-45</text><text x="229.6" y="1335" text-anchor="middle">1200</text><text x="667.2" y="1335" text-anchor="middle">1300</text><text x="1104.8" y="1335" text-anchor="middle">1400</text><text x="1542.4" y="1335" text-anchor="middle">1500</text></g>
<text class="tt" x="995" y="1457" text-anchor="middle">Wavelength (nm)</text>
<text class="tt" transform="translate(87 641) rotate(-90)" text-anchor="middle">Transmission (dB)</text>
<g stroke-width="5.6">
<line x1="1191" y1="921.5" x2="1368" y2="921.5" stroke="#676767"/>
<line x1="1191" y1="1015" x2="1368" y2="1015" stroke="#f55252"/>
<line x1="1191" y1="1108" x2="1368" y2="1108" stroke="#327ce0"/>
</g>
<g class="lg" transform="translate(1382.3 0) scale(0.975 1)">
<text x="0" y="948">Sample 1</text>
<text x="0" y="1041.2">Sample 2</text>
<text x="0" y="1134.3">Sample 3</text>
</g>
</svg>
</body></html>
